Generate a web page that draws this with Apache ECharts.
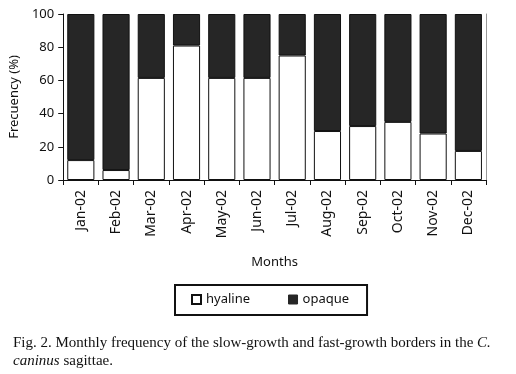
<!DOCTYPE html>
<html>
<head>
<meta charset="utf-8">
<script src="https://cdn.jsdelivr.net/npm/echarts@6/dist/echarts.min.js"></script>
<style>
  html, body { margin: 0; padding: 0; background: #fff; }
  #main { width: 516px; height: 374px; }
</style>
</head>
<body>
<div id="main"></div>
<script>
// months on the x axis
const months = ['Jan-02', 'Feb-02', 'Mar-02', 'Apr-02', 'May-02', 'Jun-02',
  'Jul-02', 'Aug-02', 'Sep-02', 'Oct-02', 'Nov-02', 'Dec-02'];
// hyaline (slow growth) border frequency, %
const hyaline = [12, 6, 61.5, 81, 61.5, 61.5, 75, 29.5, 32.5, 35, 28, 17.5];
// opaque (fast growth) border frequency, %
const opaque = [88, 94, 38.5, 19, 38.5, 38.5, 25, 70.5, 67.5, 65, 72, 82.5];
const yTicks = [0, 20, 40, 60, 80, 100];

const font = '"Noto Sans", "Open Sans", sans-serif';
const chart = echarts.init(document.getElementById('main'));

const option = {
  backgroundColor: '#fff',
  animation: false,
  title: {
    left: 8,
    top: 329,
    text: 'Fig. 2. Monthly frequency of the slow-growth and fast-growth borders in the {i|C.}\n{i|caninus} sagittae.',
    textStyle: {
      fontFamily: '"Liberation Serif", serif',
      fontSize: 15,
      fontWeight: 'normal',
      color: '#111',
      lineHeight: 18,
      rich: {
        i: { fontFamily: '"Liberation Serif", serif', fontSize: 15, fontStyle: 'italic', color: '#111' }
      }
    }
  },
  legend: {
    left: 175,
    top: 285,
    width: 160,
    padding: [8, 18, 9, 16],
    itemGap: 38,
    itemWidth: 9,
    itemHeight: 9,
    borderColor: '#111',
    borderWidth: 2,
    icon: 'rect',
    textStyle: { fontFamily: font, fontSize: 13, color: '#111' },
    data: [
      { name: 'hyaline', itemStyle: { color: '#fff', borderColor: '#111', borderWidth: 2 } },
      { name: 'opaque', itemStyle: { color: '#262626', borderColor: '#262626', borderWidth: 1 } }
    ]
  },
  grid: { left: 60, right: 30, top: 14, bottom: 194, containLabel: false },
  xAxis: {
    type: 'category',
    data: months,
    name: 'Months',
    nameLocation: 'middle',
    nameGap: 76,
    nameTextStyle: { fontFamily: font, fontSize: 13, color: '#111' },
    axisLine: { lineStyle: { color: '#111', width: 1 } },
    axisTick: { show: true, length: 5, lineStyle: { color: '#111' } },
    axisLabel: {
      rotate: 90,
      margin: 10,
      fontFamily: font,
      fontSize: 14,
      color: '#111',
      interval: 0
    }
  },
  yAxis: [
    {
      type: 'value',
      min: 0,
      max: 100,
      interval: 20,
      name: 'Frecuency (%)',
      nameLocation: 'middle',
      nameGap: 38,
      nameTextStyle: { fontFamily: font, fontSize: 13, color: '#111' },
      axisLine: { show: true, lineStyle: { color: '#111' } },
      axisTick: { show: true, length: 5, lineStyle: { color: '#111' } },
      axisLabel: {
        fontFamily: font,
        fontSize: 13,
        color: '#111',
        margin: 9,
        formatter: v => (yTicks.indexOf(v) >= 0 ? String(v) : '')
      },
      splitLine: { show: false }
    },
    {
      type: 'value',
      min: 0,
      max: 100,
      interval: 20,
      position: 'right',
      axisLine: { show: true, lineStyle: { color: '#999' } },
      axisTick: { show: false },
      axisLabel: { show: false },
      splitLine: { show: false }
    }
  ],
  series: [
    {
      name: 'hyaline',
      type: 'bar',
      stack: 'total',
      barCategoryGap: '23%',
      itemStyle: { color: '#fff', borderColor: '#111', borderWidth: 1 },
      data: hyaline
    },
    {
      name: 'opaque',
      type: 'bar',
      stack: 'total',
      barCategoryGap: '23%',
      itemStyle: { color: '#262626', borderColor: '#111', borderWidth: 1 },
      data: opaque
    }
  ]
};
chart.setOption(option);
</script>
</body>
</html>
